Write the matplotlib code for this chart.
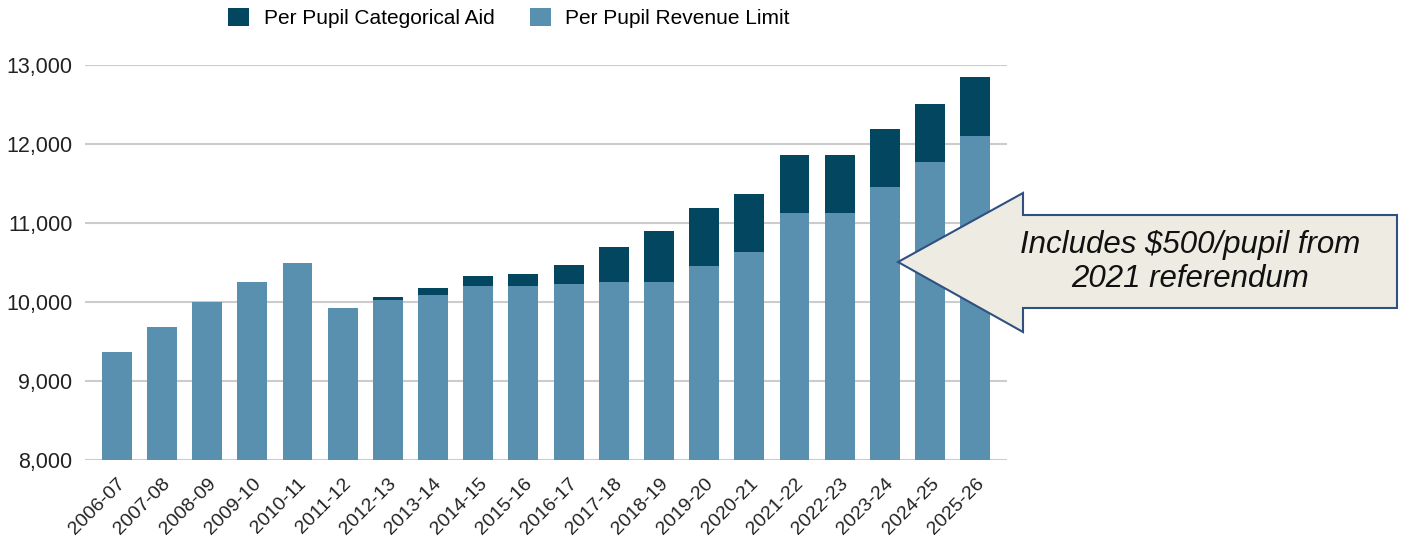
import matplotlib.pyplot as plt
from matplotlib.patches import Polygon
import numpy as np

years = ["2006-07", "2007-08", "2008-09", "2009-10", "2010-11", "2011-12", "2012-13",
         "2013-14", "2014-15", "2015-16", "2016-17", "2017-18", "2018-19", "2019-20",
         "2020-21", "2021-22", "2022-23", "2023-24", "2024-25", "2025-26"]
revenue_limit = [9370, 9685, 10000, 10250, 10495, 9930, 10020, 10090, 10205, 10205,
                 10225, 10250, 10250, 10450, 10630, 11130, 11130, 11460, 11770, 12105]
categorical_aid = [0, 0, 0, 0, 0, 0, 45, 85, 125, 150,
                   245, 445, 645, 735, 735, 730, 730, 735, 735, 740]
yticks = [8000, 9000, 10000, 11000, 12000, 13000]

light = "#5990B0"
dark = "#03465F"

plt.rcParams['font.family'] = ['Liberation Sans', 'DejaVu Sans']

W, H = 1412, 542
fig = plt.figure(figsize=(W / 100, H / 100), dpi=100)
ax = fig.add_axes([85 / W, 1 - 460 / H, (1007 - 85) / W, (460 - 65) / H])

x = np.arange(len(years))
rev = np.array(revenue_limit)
aid = np.array(categorical_aid)
ax.bar(x, rev, width=0.66, color=light, label="Per Pupil Revenue Limit", zorder=2)
ax.bar(x, aid, bottom=rev, width=0.66, color=dark, label="Per Pupil Categorical Aid", zorder=2)

ax.set_ylim(8000, 13000)
ax.set_xlim(-0.7, len(years) - 0.3)
ax.set_yticks(yticks)
ax.set_yticklabels([f"{v:,}" for v in yticks], fontsize=15.5, color="#222222")
ax.set_xticks(x)
ax.set_xticklabels(years, rotation=45, ha="right", rotation_mode="anchor",
                   fontsize=14, color="#222222")
ax.tick_params(axis="both", length=0)
ax.tick_params(axis="y", pad=9)
ax.tick_params(axis="x", pad=11)
ax.grid(axis="y", color="#CCCCCC", linewidth=1.5, zorder=0)
for s in ax.spines.values():
    s.set_visible(False)

handles, labels = ax.get_legend_handles_labels()
fig.legend(handles[::-1], labels[::-1], loc="center", ncol=2, frameon=False,
           bbox_to_anchor=(509 / W, 1 - 18 / H), fontsize=15,
           handlelength=1.0, handleheight=1.0, columnspacing=1.7, handletextpad=0.7)

# callout arrow
pts = [(898, 262), (1023, 193), (1023, 215), (1397, 215), (1397, 308),
       (1023, 308), (1023, 332)]
poly = Polygon([(px / W, 1 - py / H) for px, py in pts], closed=True,
               transform=fig.transFigure, facecolor="#EDEBE2", edgecolor="#2F5080",
               linewidth=1.5, zorder=5)
fig.add_artist(poly)
fig.text(1190 / W, 1 - 262 / H, "Includes \\$500/pupil from\n2021 referendum",
         ha="center", va="center", fontsize=22.5, style="italic", linespacing=1.2,
         color="#111111", zorder=6)

fig.savefig("out.png", dpi=100)
